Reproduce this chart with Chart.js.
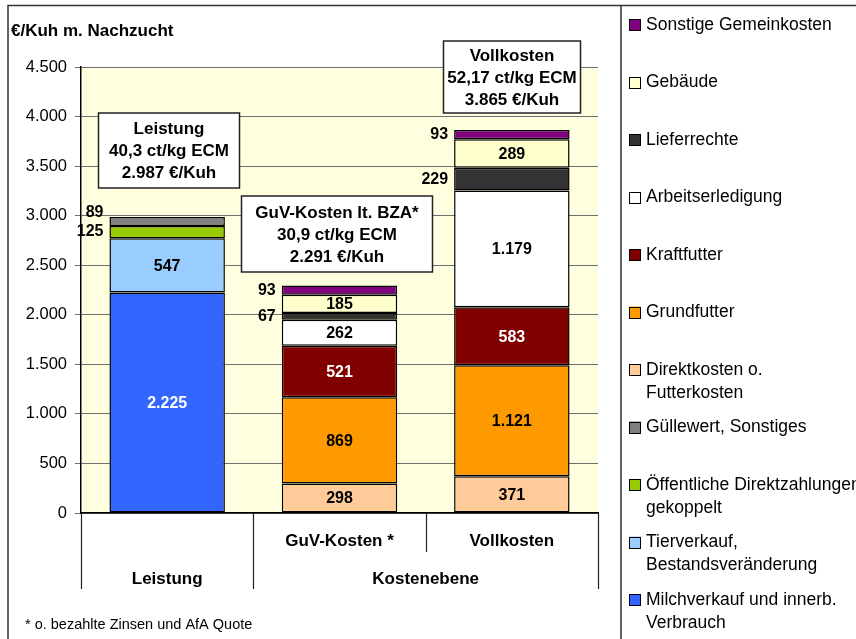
<!DOCTYPE html>
<html>
<head>
<meta charset="utf-8">
<script src="https://cdn.jsdelivr.net/npm/chart.js@4.4.1/dist/chart.umd.min.js"></script>
<style>
    html, body { margin: 0; padding: 0; background: #fff; }
    #wrap { width: 856px; height: 639px; }
</style>
</head>
<body>
<div id="wrap"><canvas id="kostenChart" width="856" height="639"></canvas></div>
<script>
// --- Daten ---
const categories = ['Leistung', 'GuV-Kosten *', 'Vollkosten'];
const subLabels = ['', 'GuV-Kosten *', 'Vollkosten'];
const groupLabels = ['Leistung', 'Kostenebene'];
const groupSpans = [1, 2];
const yTickValues = [0, 500, 1000, 1500, 2000, 2500, 3000, 3500, 4000, 4500];

const milchverkauf = [2225, null, null];
const tierverkauf = [547, null, null];
const direktzahlungen = [125, null, null];
const guellewert = [89, null, null];
const direktkosten = [null, 298, 371];
const grundfutter = [null, 869, 1121];
const kraftfutter = [null, 521, 583];
const arbeit = [null, 262, 1179];
const lieferrechte = [null, 67, 229];
const gebaeude = [null, 185, 289];
const sonstige = [null, 93, 93];

const boxTexts = [
    ['Leistung', '40,3 ct/kg ECM', '2.987 €/Kuh'],
    ['GuV-Kosten lt. BZA*', '30,9 ct/kg ECM', '2.291 €/Kuh'],
    ['Vollkosten', '52,17 ct/kg ECM', '3.865 €/Kuh']
];
const yTitle = '€/Kuh m. Nachzucht';
const footnote = '* o. bezahlte Zinsen und AfA Quote';

// --- Stil ---
const FONT = "'Liberation Sans', Arial, sans-serif";
const series = [
    { label: 'Milchverkauf und innerb.\nVerbrauch', data: milchverkauf, color: '#3366FF', text: '#fff' },
    { label: 'Tierverkauf,\nBestandsveränderung', data: tierverkauf, color: '#99CCFF' },
    { label: 'Öffentliche Direktzahlungen\ngekoppelt', data: direktzahlungen, color: '#99CC00', outside: true },
    { label: 'Güllewert, Sonstiges', data: guellewert, color: '#808080', outside: true },
    { label: 'Direktkosten o.\nFutterkosten', data: direktkosten, color: '#FFCC99' },
    { label: 'Grundfutter', data: grundfutter, color: '#FF9900' },
    { label: 'Kraftfutter', data: kraftfutter, color: '#800000', text: '#fff' },
    { label: 'Arbeitserledigung', data: arbeit, color: '#FFFFFF' },
    { label: 'Lieferrechte', data: lieferrechte, color: '#333333', outside: true },
    { label: 'Gebäude', data: gebaeude, color: '#FFFFCC' },
    { label: 'Sonstige Gemeinkosten', data: sonstige, color: '#800080', outside: true }
];

// Textboxen (Pixel-Layout)
const boxLayout = [
    { cx: 169, top: 113, w: 141, h: 75 },
    { cx: 337, top: 196, w: 191, h: 76 },
    { cx: 512, top: 41, w: 137, h: 72 }
];

function fmt(v) {
    return String(v).replace(/\B(?=(\d{3})+(?!\d))/g, '.');
}

const decorPlugin = {
    id: 'decor',
    beforeDraw(chart) {
        const { ctx, chartArea: a } = chart;
        ctx.save();
        ctx.fillStyle = '#fff';
        ctx.fillRect(0, 0, chart.width, chart.height);
        ctx.fillStyle = '#FFFFE0';
        ctx.fillRect(a.left, a.top, a.right - a.left, a.bottom - a.top);
        ctx.restore();
    },
    afterDatasetsDraw(chart) {
        const { ctx } = chart;
        ctx.save();
        ctx.font = `bold 16px ${FONT}`;
        ctx.textBaseline = 'middle';
        const lastOutside = {};
        chart.data.datasets.forEach((ds, i) => {
            const meta = chart.getDatasetMeta(i);
            const s = series[i];
            meta.data.forEach((bar, j) => {
                const v = ds.data[j];
                if (v == null) return;
                let y = (bar.y + bar.base) / 2;
                if (s.outside) {
                    if (lastOutside[j] !== undefined && y > lastOutside[j] - 19) {
                        y = lastOutside[j] - 19;
                    }
                    lastOutside[j] = y;
                    ctx.fillStyle = '#000';
                    ctx.textAlign = 'right';
                    ctx.fillText(fmt(v), bar.x - bar.width / 2 - 6, y);
                } else {
                    ctx.fillStyle = s.text || '#000';
                    ctx.textAlign = 'center';
                    ctx.fillText(fmt(v), bar.x, y + 1);
                }
            });
        });
        ctx.restore();
    },
    afterDraw(chart) {
        const { ctx, chartArea: a } = chart;
        const xs = chart.scales.x;
        ctx.save();

        // Rahmen
        ctx.strokeStyle = '#333';
        ctx.lineWidth = 1.5;
        ctx.beginPath();
        ctx.moveTo(8, 639); ctx.lineTo(8, 5.5); ctx.lineTo(856, 5.5);
        ctx.moveTo(621, 5); ctx.lineTo(621, 639);
        ctx.stroke();

        // Titel der y-Achse
        ctx.fillStyle = '#000';
        ctx.font = `bold 17px ${FONT}`;
        ctx.textAlign = 'left';
        ctx.textBaseline = 'middle';
        ctx.fillText(yTitle, 11, 31);

        // mehrstufige Kategorieachse
        const px = categories.map((c, i) => xs.getPixelForValue(i));
        const half = (px[1] - px[0]) / 2;
        const edges = [px[0] - half].concat(px.map(p => p + half));
        ctx.strokeStyle = '#222';
        ctx.lineWidth = 1.2;
        ctx.beginPath();
        let k = 0;
        const groupEdges = [0];
        groupSpans.forEach(n => { k += n; groupEdges.push(k); });
        edges.forEach((x, i) => {
            const full = groupEdges.includes(i);
            ctx.moveTo(Math.round(x) + 0.5, a.bottom);
            ctx.lineTo(Math.round(x) + 0.5, full ? 589 : 552);
        });
        ctx.stroke();
        ctx.font = `bold 17px ${FONT}`;
        ctx.textAlign = 'center';
        subLabels.forEach((t, i) => { if (t) ctx.fillText(t, px[i], 541); });
        groupLabels.forEach((t, g) => {
            const x = (edges[groupEdges[g]] + edges[groupEdges[g + 1]]) / 2;
            ctx.fillText(t, x, 579);
        });

        // Textboxen
        boxTexts.forEach((lines, i) => {
            const b = boxLayout[i];
            ctx.fillStyle = '#fff';
            ctx.fillRect(b.cx - b.w / 2, b.top, b.w, b.h);
            ctx.strokeStyle = '#222';
            ctx.lineWidth = 1.5;
            ctx.strokeRect(b.cx - b.w / 2, b.top, b.w, b.h);
            ctx.fillStyle = '#000';
            ctx.font = `bold 17px ${FONT}`;
            lines.forEach((t, l) => ctx.fillText(t, b.cx, b.top + b.h / 2 + (l - 1) * 22 + 1));
        });

        // Legende
        ctx.textAlign = 'left';
        ctx.font = `17.5px ${FONT}`;
        series.slice().reverse().forEach((s, i) => {
            const y0 = 25 + i * 57.5;
            ctx.fillStyle = s.color;
            ctx.fillRect(629, y0 - 6, 12, 12);
            ctx.strokeStyle = '#000';
            ctx.lineWidth = 1;
            ctx.strokeRect(629.5, Math.round(y0 - 6) + 0.5, 11, 11);
            ctx.fillStyle = '#000';
            s.label.split('\n').forEach((t, l) => ctx.fillText(t, 646, y0 + l * 23));
        });

        // Fussnote
        ctx.font = `14.5px ${FONT}`;
        ctx.fillText(footnote, 25, 625);
        ctx.restore();
    }
};

function renderChart() {
    const ctx = document.getElementById('kostenChart');
    new Chart(ctx, {
        type: 'bar',
        data: {
            labels: categories,
            datasets: series.map(s => ({
                label: s.label,
                data: s.data,
                backgroundColor: s.color,
                borderColor: '#000',
                borderWidth: 1.5,
                borderSkipped: false,
                barPercentage: 0.67,
                categoryPercentage: 1
            }))
        },
        options: {
            responsive: false,
            animation: false,
            layout: { padding: { top: 67, right: 258, left: 0, bottom: 0 } },
            plugins: { legend: { display: false }, tooltip: { enabled: false } },
            scales: {
                x: {
                    stacked: true,
                    grid: { display: false },
                    border: { color: '#000', width: 1.5 },
                    ticks: { display: false },
                    afterFit: s => { s.height = 126; }
                },
                y: {
                    stacked: true,
                    min: 0,
                    max: 4500,
                    afterBuildTicks: s => { s.ticks = yTickValues.map(v => ({ value: v })); },
                    grid: { color: '#6f6f6f', tickLength: 6 },
                    border: { color: '#000', width: 1.5 },
                    ticks: {
                        color: '#000',
                        padding: 8,
                        font: { family: FONT, size: 16.5 },
                        callback: v => fmt(v)
                    },
                    afterFit: s => { s.width = 81; }
                }
            }
        },
        plugins: [decorPlugin]
    });
}

document.addEventListener('DOMContentLoaded', renderChart);
</script>
</body>
</html>
